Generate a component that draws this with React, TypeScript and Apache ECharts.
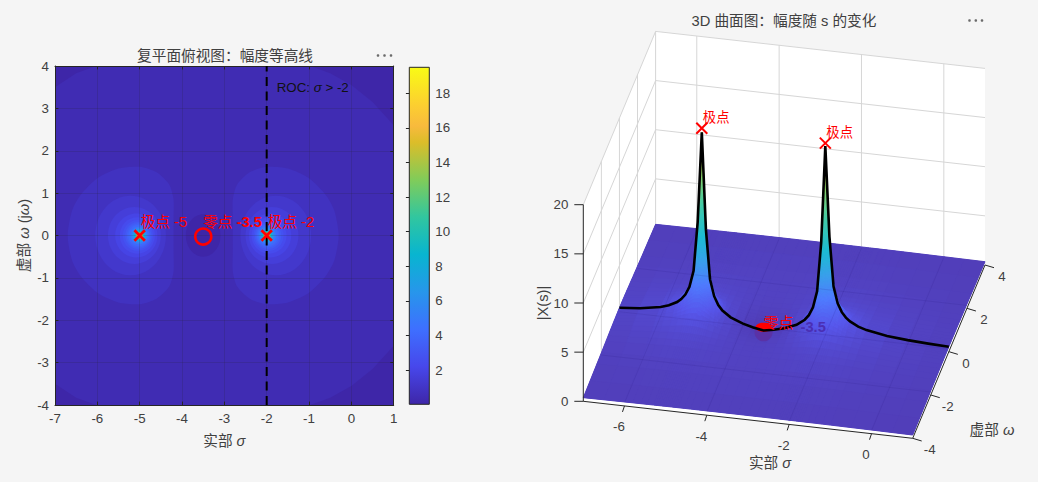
import React, { useEffect, useRef } from "react";
import * as echarts from "echarts";

const FONT = '"Liberation Sans","Noto Sans CJK SC",sans-serif';
const TEXT = "#404040";
const AXIS = "#262626";
const BG = "#f5f5f5";

// colour ramp
const rampPos = [0, 7, 14, 21, 28, 35, 42, 49, 52, 56, 63];
const rampHex = ["#3e26a8", "#4747eb", "#3e6fff", "#2796eb", "#08b5d0", "#31c69f", "#81cc59", "#dcbd29", "#f8ba3d", "#fccf30", "#f9fb15"];
const colorMin = 0.03;
const colorMax = 19.5;
const colorbarTicks = [2, 4, 6, 8, 10, 12, 14, 16, 18];

// poles / zero
const poleSigma = [-5, -2];
const poleOmega = [0, 0];
const poleText = ["极点 -5", "极点 -2"];
const poleTopZ = [19.9, 19.8];
const zeroSigma = -3.5;
const rocSigma = -2;

// contour levels read from the top view: rings round each pole
const ringLevels = [1.2, 1.6, 2, 2.4, 2.8, 3.2, 3.6, 4, 4.8, 5.6, 6.4, 7.2, 8, 10, 12, 15, 18];
const ringOuter = [1.05, 0.75, 0.58, 0.47, 0.4, 0.345, 0.305, 0.27, 0.22, 0.19, 0.165, 0.145, 0.13, 0.105, 0.087, 0.068, 0.057];
const ringInner = [0.62, 0.5, 0.42, 0.36, 0.315, 0.28, 0.25, 0.23, 0.195, 0.17, 0.15, 0.135, 0.12, 0.097, 0.082, 0.066, 0.055];
const ringTop = [0.94, 0.67, 0.52, 0.43, 0.365, 0.32, 0.285, 0.255, 0.21, 0.18, 0.155, 0.14, 0.125, 0.1, 0.085, 0.067, 0.056];
// 0.8 contour, left lobe, upper half
const lobeLevel = 0.8;
const lobeSigma = [-6.7, -6.6, -6.4, -6, -5.5, -5, -4.6, -4.3, -4.2, -4.2];
const lobeOmega = [0, 0.58, 0.95, 1.35, 1.58, 1.62, 1.49, 1.2, 0.85, 0.4];
// 0.4 contour, corners and zero hole
const baseLevel = 0.4;
const rightCornerSigma = [-0.97, -0.5, 0, 0.5, 1];
const rightCornerOmega = [4, 3.83, 3.55, 3.15, 2.6];
const leftCornerSigma = [-6.03, -6.5, -7];
const leftCornerOmega = [4, 3.83, 3.5];
const holeSigmaRadius = 0.41;
const holeOmegaRadius = 0.5;

// |X(s)| estimated on nodes: sigma from -7 to -3.5 (right of the zero repeats mirrored), omega from 0 to 4
const sigmaNodes = [-7, -6, -5.6, -5.3, -5.2, -5.1, -5, -4.9, -4.8, -4.7, -4.4, -4, -3.5];
const omegaNodes = [0, 0.1, 0.2, 0.35, 0.6, 1, 1.5, 2.5, 4];
const zSigmaA = [0.7, 0.7, 0.697, 0.691, 0.675, 0.639, 0.584, 0.481, 0.371];
const zSigmaB = [1.25, 1.245, 1.228, 1.187, 1.09, 0.924, 0.757, 0.557, 0.405];
const zSigmaC = [1.944, 1.92, 1.852, 1.694, 1.409, 1.068, 0.819, 0.579, 0.415];
const zSigmaD = [3.636, 3.457, 3.035, 2.398, 1.686, 1.144, 0.845, 0.591, 0.422];
const zSigmaE = [5.31, 4.76, 3.775, 2.675, 1.752, 1.153, 0.847, 0.594, 0.424];
const zSigmaF = [10.32, 7.31, 4.64, 2.884, 1.78, 1.153, 0.848, 0.596, 0.426];
const zSigmaG = [19.5, 10, 5.03, 2.914, 1.761, 1.14, 0.843, 0.597, 0.427];
const zSigmaH = [9.66, 6.85, 4.35, 2.715, 1.692, 1.115, 0.835, 0.598, 0.431];
const zSigmaI = [4.64, 4.16, 3.31, 2.367, 1.582, 1.082, 0.826, 0.597, 0.43];
const zSigmaJ = [2.963, 2.82, 2.49, 1.992, 1.446, 1.039, 0.813, 0.599, 0.431];
const zSigmaK = [1.25, 1.241, 1.212, 1.146, 1.03, 0.887, 0.765, 0.596, 0.435];
const zSigmaL = [0.5, 0.507, 0.526, 0.567, 0.641, 0.707, 0.702, 0.592, 0.437];
const zSigmaM = [0.03, 0.088, 0.175, 0.295, 0.46, 0.615, 0.667, 0.588, 0.438];
const zSigmaEnd = [0.5, 0.5, 0.499, 0.4975, 0.492, 0.479, 0.457, 0.405, 0.334];

// the omega = 0 profile (black line)
const lineSigma = [-7, -6.5, -6, -5.8, -5.6, -5.5, -5.4, -5.3, -5.2, -5.1, -5, -4.9, -4.8, -4.7, -4.6, -4.5, -4.3, -4, -3.75, -3.5, -3.25, -3, -2.7, -2.5, -2.4, -2.3, -2.2, -2.1, -2, -1.9, -1.8, -1.7, -1.6, -1.5, -1.4, -1.2, -1, -0.5, 0, 0.5, 1];
const lineZ = [0.7, 0.889, 1.25, 1.513, 1.944, 2.286, 2.794, 3.636, 5.31, 10.32, 19.5, 9.66, 4.64, 2.96, 2.115, 1.6, 0.994, 0.5, 0.229, 0.03, 0.229, 0.5, 0.994, 1.6, 2.115, 2.96, 4.64, 9.66, 19.5, 10.32, 5.31, 3.636, 2.794, 2.286, 1.944, 1.513, 1.25, 0.889, 0.7, 0.582, 0.5];

// 3D axes
const sigmaTicks3d = [-6, -4, -2, 0];
const omegaTicks3d = [-4, -2, 0, 2, 4];
const zTicks3d = [0, 5, 10, 15, 20];
const omegaWallLines = [-2, 0, 2];
const zWallLines = [5, 10, 15];

// ---------- helpers ----------
const hexRgb = (h: string) => [1, 3, 5].map((i) => parseInt(h.slice(i, i + 2), 16));
const ramp = rampHex.map(hexRgb);
function parula(v: number, mixWhite = 0) {
  const t = Math.max(0, Math.min(1, (v - colorMin) / (colorMax - colorMin))) * 63;
  let i = 0;
  while (i < rampPos.length - 2 && t > rampPos[i + 1]) i++;
  const f = (t - rampPos[i]) / (rampPos[i + 1] - rampPos[i]);
  const c = ramp[i].map((a, k) => a + (ramp[i + 1][k] - a) * f).map((a) => Math.round(a + (255 - a) * mixWhite));
  return `rgb(${c[0]},${c[1]},${c[2]})`;
}
// the translucent spike reads cooler than the bar above z = 8
const surfaceTone = (z: number) => (z < 8 ? z : 8 + (z - 8) * 0.72);

// orthographic view of the 3D axes box
const project = (s: number, w: number, z: number): [number, number] => [
  583.3 + (329.4 * (s + 7)) / 8 + (72.3 * (w + 4)) / 8,
  401.3 + (37 * (s + 7)) / 8 - (173.3 * (w + 4)) / 8 - 9.83 * z,
];

// ---------- surface table -> shaded quads ----------
const halfRows = [zSigmaA, zSigmaB, zSigmaC, zSigmaD, zSigmaE, zSigmaF, zSigmaG, zSigmaH, zSigmaI, zSigmaJ, zSigmaK, zSigmaL, zSigmaM];
const sigmaAll = [...sigmaNodes, ...sigmaNodes.slice(0, -1).reverse().map((s) => -7 - s), 1];
const rowsAll = [...halfRows, ...halfRows.slice(0, -1).reverse(), zSigmaEnd];
const omegaAll = [...omegaNodes.slice(1).reverse().map((w) => -w), ...omegaNodes];
const zAt = (i: number, j: number) => rowsAll[i][omegaNodes.indexOf(Math.abs(omegaAll[j]))];

type Quad = { s0: number; s1: number; w0: number; w1: number; z: number[]; d: number };
const quads: Quad[] = [];
for (let i = 0; i < sigmaAll.length - 1; i++) {
  for (let j = 0; j < omegaAll.length - 1; j++) {
    const c = [zAt(i, j), zAt(i + 1, j), zAt(i + 1, j + 1), zAt(i, j + 1)];
    const range = Math.max(...c) - Math.min(...c);
    const n = Math.max(2, Math.min(14, Math.ceil(range / 0.4)));
    const bil = (u: number, v: number) =>
      c[0] * (1 - u) * (1 - v) + c[1] * u * (1 - v) + c[2] * u * v + c[3] * (1 - u) * v;
    for (let a = 0; a < n; a++) {
      for (let b = 0; b < n; b++) {
        const u0 = a / n, u1 = (a + 1) / n, v0 = b / n, v1 = (b + 1) / n;
        const s0 = sigmaAll[i] + (sigmaAll[i + 1] - sigmaAll[i]) * u0;
        const s1 = sigmaAll[i] + (sigmaAll[i + 1] - sigmaAll[i]) * u1;
        const w0 = omegaAll[j] + (omegaAll[j + 1] - omegaAll[j]) * v0;
        const w1 = omegaAll[j] + (omegaAll[j + 1] - omegaAll[j]) * v1;
        quads.push({
          s0, s1, w0, w1,
          z: [bil(u0, v0), bil(u1, v0), bil(u1, v1), bil(u0, v1)],
          d: project((s0 + s1) / 2, (w0 + w1) / 2, 0)[1],
        });
      }
    }
  }
}
quads.sort((p, q) => p.d - q.d);

// ---------- small builders ----------
const txt = (x: number, y: number, text: string, o: any = {}) => ({
  type: "text",
  x,
  y,
  rotation: o.rotation || 0,
  style: {
    text,
    fill: o.fill || TEXT,
    font: `${o.weight || "normal"} ${o.size || 13.33}px ${FONT}`,
    align: o.align || "center",
    verticalAlign: "middle",
    rich: o.rich,
  },
});
const seg = (a: number[], b: number[], stroke: string, lineWidth = 1) => ({
  type: "line",
  shape: { x1: a[0], y1: a[1], x2: b[0], y2: b[1] },
  style: { stroke, lineWidth },
});
const italic = (size: number, fill = TEXT) => ({ i: { fontStyle: "italic", fontSize: size, fontFamily: FONT, fill } });
const cross = (c: number[], r: number, w: number) => [
  seg([c[0] - r, c[1] - r], [c[0] + r, c[1] + r], "#ff0000", w),
  seg([c[0] - r, c[1] + r], [c[0] + r, c[1] - r], "#ff0000", w),
];

// ---------- left contour items ----------
const mirrored = (sig: number[], om: number[]) => {
  const upper = sig.map((s, i) => [s, om[i]]);
  const lower = sig.map((s, i) => [s, -om[i]]).reverse();
  return [...upper, ...lower.filter((p) => p[1] !== 0)];
};
const contourItems: any[] = [];
contourItems.push({ poly: [[-7, -4], [1, -4], [1, 4], [-7, 4]], level: baseLevel });
for (const sgn of [1, -1]) {
  contourItems.push({ poly: [...rightCornerSigma.map((s, i) => [s, sgn * rightCornerOmega[i]]), [1, sgn * 4]], level: colorMin });
  contourItems.push({ poly: [...leftCornerSigma.map((s, i) => [s, sgn * leftCornerOmega[i]]), [-7, sgn * 4]], level: colorMin });
}
contourItems.push({ ell: [zeroSigma, 0, holeSigmaRadius, holeOmegaRadius], level: colorMin });
const leftLobe = mirrored(lobeSigma, lobeOmega);
contourItems.push({ poly: leftLobe, level: lobeLevel, smooth: 0.25 });
contourItems.push({ poly: leftLobe.map((p) => [-7 - p[0], p[1]]), level: lobeLevel, smooth: 0.25 });
ringLevels.forEach((L, i) => {
  const shift = (ringOuter[i] - ringInner[i]) / 2;
  const rx = (ringOuter[i] + ringInner[i]) / 2;
  contourItems.push({ ell: [poleSigma[0] - shift, 0, rx, ringTop[i]], level: L });
  contourItems.push({ ell: [poleSigma[1] + shift, 0, rx, ringTop[i]], level: L });
});

const toCoord = (api: any, p: number[]) => api.coord(p) as number[];

function buildOption(): any {
  const axisLabel = { color: TEXT, fontSize: 13.33, fontFamily: FONT };
  const grayLine = "#d6d6d6";
  return {
    animation: false,
    backgroundColor: BG,
    grid: [
      { left: 55, top: 66, width: 338.7, height: 339 },
      { left: 409.3, top: 67.3, width: 20, height: 337 },
    ],
    xAxis: [
      {
        gridIndex: 0, type: "value", min: -7, max: 1, interval: 1, position: "bottom", z: 3,
        axisLine: { onZero: false, lineStyle: { color: AXIS, width: 1 } },
        axisTick: { inside: true, length: 3.4, lineStyle: { color: AXIS } },
        axisLabel: { ...axisLabel, margin: 7 },
        splitLine: { show: true, lineStyle: { color: "rgba(38,38,38,0.16)", width: 1 } },
        name: "实部 {i|σ}", nameLocation: "middle", nameGap: 29,
        nameTextStyle: { color: TEXT, fontSize: 14.67, fontFamily: FONT, rich: italic(14.67) },
      },
      {
        gridIndex: 0, type: "value", min: -7, max: 1, interval: 1, position: "top", z: 3,
        axisLine: { onZero: false, lineStyle: { color: AXIS, width: 1 } },
        axisTick: { inside: true, length: 3.4, lineStyle: { color: AXIS } },
        axisLabel: { show: false }, splitLine: { show: false },
      },
      { gridIndex: 1, type: "value", min: 0, max: 1, show: false },
    ],
    yAxis: [
      {
        gridIndex: 0, type: "value", min: -4, max: 4, interval: 1, position: "left", z: 3,
        axisLine: { onZero: false, lineStyle: { color: AXIS, width: 1 } },
        axisTick: { inside: true, length: 3.4, lineStyle: { color: AXIS } },
        axisLabel: { ...axisLabel, margin: 6 },
        splitLine: { show: true, lineStyle: { color: "rgba(38,38,38,0.16)", width: 1 } },
        name: "虚部 {i|ω} (j{i|ω})", nameLocation: "middle", nameGap: 24, nameRotate: 90,
        nameTextStyle: { color: TEXT, fontSize: 14.67, fontFamily: FONT, rich: italic(14.67) },
      },
      {
        gridIndex: 0, type: "value", min: -4, max: 4, interval: 1, position: "right", z: 3,
        axisLine: { onZero: false, lineStyle: { color: AXIS, width: 1 } },
        axisTick: { inside: true, length: 3.4, lineStyle: { color: AXIS } },
        axisLabel: { show: false }, splitLine: { show: false },
      },
      {
        gridIndex: 1, type: "value", min: colorMin, max: colorMax, position: "right", z: 3,
        axisLine: { show: false },
        axisTick: { show: true, inside: true, length: 3.4, lineStyle: { color: AXIS }, customValues: colorbarTicks },
        axisLabel: { ...axisLabel, margin: 6, customValues: colorbarTicks },
        splitLine: { show: false },
      },
    ],
    graphic: {
      elements: [
        ...[378, 384.5, 391].map((x) => ({ type: "circle", shape: { cx: x, cy: 55.5, r: 1.3 }, style: { fill: "#6b6b6b" }, silent: true })),
        ...[969.5, 975.8, 982].map((x) => ({ type: "circle", shape: { cx: x, cy: 20.5, r: 1.3 }, style: { fill: "#6b6b6b" }, silent: true })),
        { type: "text", x: 225, y: 55.5, style: { text: "复平面俯视图\uFF1A幅度等高线", fill: TEXT, font: `14.67px ${FONT}`, align: "center", verticalAlign: "middle" } },
        { type: "text", x: 784, y: 20.5, style: { text: "3D 曲面图\uFF1A幅度随 s 的变化", fill: TEXT, font: `14.67px ${FONT}`, align: "center", verticalAlign: "middle" } },
      ],
    },
    series: [
      // contour bands
      {
        type: "custom", xAxisIndex: 0, yAxisIndex: 0, z: 1, clip: true, silent: true, progressive: 0,
        data: contourItems.map((_, i) => [-3, 0, i]),
        renderItem: (p: any, api: any) => {
          const it = contourItems[p.dataIndex];
          const fill = parula(it.level);
          if (it.ell) {
            const c = toCoord(api, [it.ell[0], it.ell[1]]);
            const sz = api.size([it.ell[2], it.ell[3]]);
            return { type: "ellipse", shape: { cx: c[0], cy: c[1], rx: sz[0], ry: sz[1] }, style: { fill } };
          }
          return {
            type: "polygon",
            shape: { points: it.poly.map((q: number[]) => toCoord(api, q)), smooth: it.smooth || 0 },
            style: { fill },
          };
        },
      },
      // ROC boundary
      {
        type: "line", xAxisIndex: 0, yAxisIndex: 0, z: 5, symbol: "none", silent: true,
        data: [[rocSigma, -4], [rocSigma, 4]],
        lineStyle: { color: "#000", width: 2, type: [9, 5.5] },
      },
      // markers and notes on the top view
      {
        type: "custom", xAxisIndex: 0, yAxisIndex: 0, z: 6, silent: true,
        clip: false,
        data: [[-3, 0]],
        renderItem: (_p: any, api: any) => {
          const kids: any[] = [];
          poleSigma.forEach((s, i) => {
            const c = toCoord(api, [s, poleOmega[i]]);
            kids.push(...cross(c, 5.2, 2.8));
            kids.push(txt(c[0] + 1, c[1] - 14, poleText[i], { fill: "#ff0000", size: 14.67, align: "left" }));
          });
          const z = toCoord(api, [zeroSigma, 0]);
          kids.push({ type: "circle", shape: { cx: z[0], cy: z[1], r: 8 }, style: { fill: "none", stroke: "#ff0000", lineWidth: 2.6 } });
          kids.push(txt(z[0], z[1] - 14, "零点 {b|-3.5}", {
            fill: "#ff0000", size: 14.67, align: "left",
            rich: { b: { fontWeight: "bold", fontSize: 14.67, fontFamily: FONT, fill: "#ff0000" } },
          }));
          const r = toCoord(api, [rocSigma, 3.5]);
          kids.push(txt(r[0] + 10, r[1], "ROC: {i|σ} > -2", { fill: "#111111", align: "left", rich: italic(13.33, "#111111") }));
          return { type: "group", children: kids };
        },
      },
      // colour bar
      {
        type: "custom", xAxisIndex: 2, yAxisIndex: 2, z: 1, silent: true,
        data: [[0, colorMin]],
        renderItem: (_p: any, api: any) => {
          const a = api.coord([0, colorMin]);
          const b = api.coord([1, colorMax]);
          return {
            type: "rect",
            shape: { x: a[0], y: b[1], width: b[0] - a[0], height: a[1] - b[1] },
            style: {
              fill: new echarts.graphic.LinearGradient(0, 1, 0, 0, rampPos.map((pos, i) => ({ offset: pos / 63, color: rampHex[i] }))),
              stroke: AXIS,
              lineWidth: 1,
            },
          };
        },
      },
      // 3D box
      {
        type: "custom", coordinateSystem: "none", z: 1, silent: true, data: [[0]],
        renderItem: () => {
          const poly = (pts: number[][]) => ({
            type: "polygon",
            shape: { points: pts.map((q) => project(q[0], q[1], q[2])) },
            style: { fill: "#ffffff" },
          });
          const l3 = (a: number[], b: number[]) =>
            seg(project(a[0], a[1], a[2]), project(b[0], b[1], b[2]), grayLine);
          const kids: any[] = [
            poly([[-7, -4, 0], [1, -4, 0], [1, 4, 0], [-7, 4, 0]]),
            poly([[-7, 4, 0], [1, 4, 0], [1, 4, 20], [-7, 4, 20]]),
            poly([[-7, -4, 0], [-7, 4, 0], [-7, 4, 20], [-7, -4, 20]]),
          ];
          sigmaTicks3d.forEach((s) => kids.push(l3([s, 4, 0], [s, 4, 20])));
          omegaWallLines.forEach((w) => kids.push(l3([-7, w, 0], [-7, w, 20])));
          zWallLines.forEach((z) => {
            kids.push(l3([-7, -4, z], [-7, 4, z]));
            kids.push(l3([-7, 4, z], [1, 4, z]));
          });
          kids.push(l3([-7, 4, 0], [-7, 4, 20]));
          kids.push(l3([-7, -4, 20], [-7, 4, 20]));
          kids.push(l3([-7, 4, 20], [1, 4, 20]));
          // solid sheet under the shaded quads, so that no white shows between them
          const last = sigmaAll.length - 1;
          const lastW = omegaAll.length - 1;
          const rim: number[][] = [
            ...sigmaAll.map((s, i) => project(s, -4, zAt(i, 0))),
            ...omegaAll.map((w, j) => project(1, w, zAt(last, j))),
            ...sigmaAll.map((s, i) => project(s, 4, zAt(i, lastW))).reverse(),
            ...omegaAll.map((w, j) => project(-7, w, zAt(0, j))).reverse(),
          ];
          kids.push({ type: "polygon", shape: { points: rim }, style: { fill: parula(0.45, 0.09) } });
          return { type: "group", children: kids };
        },
      },
      // 3D surface
      {
        type: "custom", coordinateSystem: "none", z: 2, silent: true, progressive: 0,
        data: quads.map((_, i) => [i]),
        renderItem: (p: any) => {
          const q = quads[p.dataIndex];
          const mean = (q.z[0] + q.z[1] + q.z[2] + q.z[3]) / 4;
          const fill = parula(surfaceTone(mean), 0.09);
          return {
            type: "polygon",
            shape: {
              points: [
                project(q.s0, q.w0, q.z[0]),
                project(q.s1, q.w0, q.z[1]),
                project(q.s1, q.w1, q.z[2]),
                project(q.s0, q.w1, q.z[3]),
              ],
            },
            style: { fill, stroke: fill, lineWidth: 1, lineJoin: "round" },
          };
        },
      },
      // 3D axes, labels, line, markers
      {
        type: "custom", coordinateSystem: "none", z: 3, silent: true, data: [[0]],
        renderItem: () => {
          const kids: any[] = [];
          const faint = "rgba(40,20,120,0.13)";
          sigmaTicks3d.forEach((s) => kids.push(seg(project(s, -4, 0.3), project(s, 4, 0.3), faint)));
          omegaWallLines.forEach((w) => kids.push(seg(project(-7, w, 0.3), project(1, w, 0.3), faint)));
          // axes
          kids.push(seg(project(-7, -4, 0), project(-7, -4, 20), AXIS));
          kids.push(seg(project(-7, -4, 0), project(1, -4, 0), AXIS));
          kids.push(seg(project(1, -4, 0), project(1, 4, 0), AXIS));
          zTicks3d.forEach((z) => {
            const b = project(-7, -4, z);
            kids.push(seg(b, [b[0] - 9, b[1]], AXIS));
            kids.push(txt(b[0] - 15, b[1], String(z), { align: "right" }));
          });
          sigmaTicks3d.forEach((s) => {
            const b = project(s, -4, 0);
            kids.push(seg(b, [b[0] - 2, b[1] + 6], AXIS));
            kids.push(txt(b[0] - 5.5, b[1] + 21, String(s)));
          });
          omegaTicks3d.forEach((w) => {
            const b = project(1, w, 0);
            kids.push(seg(b, [b[0] + 9, b[1] + 2.7], AXIS));
            kids.push(txt(b[0] + 17, b[1] + 11.5, String(w)));
          });
          kids.push(txt(770, 463, "实部 {i|σ}", { size: 14.67, rich: italic(14.67) }));
          kids.push(txt(992, 430, "虚部 {i|ω}", { size: 14.67, rich: italic(14.67) }));
          kids.push(txt(543, 303, "|X(s)|", { size: 14.67, rotation: Math.PI / 2 }));
          // zero marker half sunk in the surface
          const z0 = project(zeroSigma, 0, 0);
          kids.push({ type: "circle", shape: { cx: z0[0], cy: z0[1] + 1.5, r: 9 }, style: { fill: "#5a32a6" } });
          kids.push({ type: "ellipse", shape: { cx: z0[0], cy: z0[1] - 3.5, rx: 8, ry: 4.5 }, style: { fill: "#ff0000" } });
          // profile
          kids.push({
            type: "polyline",
            shape: { points: lineSigma.map((s, i) => project(s, 0, lineZ[i])) },
            style: { stroke: "#000", lineWidth: 2.6, fill: "none", lineJoin: "miter" },
          });
          kids.push(txt(z0[0], z0[1] - 8, "零点", { fill: "#ff0000", size: 15, align: "left" }));
          kids.push(txt(z0[0] + 37, z0[1] - 4, "-3.5", { fill: "#4a2fb4", size: 14.67, align: "left", weight: "bold" }));
          poleSigma.forEach((s, i) => {
            const c = project(s, poleOmega[i], poleTopZ[i]);
            kids.push(...cross(c, 5.5, 2));
            kids.push(txt(c[0] + 1, c[1] - 10.5, "极点", { fill: "#ff0000", align: "left" }));
          });
          return { type: "group", children: kids };
        },
      },
    ],
  };
}

export default function App() {
  const ref = useRef<HTMLDivElement>(null);
  useEffect(() => {
    document.body.style.margin = "0";
    document.body.style.background = BG;
    const chart = echarts.init(ref.current!, undefined, { renderer: "svg", width: 1038, height: 482 });
    chart.setOption(buildOption());
    return () => chart.dispose();
  }, []);
  return <div ref={ref} style={{ width: 1038, height: 482 }} />;
}
